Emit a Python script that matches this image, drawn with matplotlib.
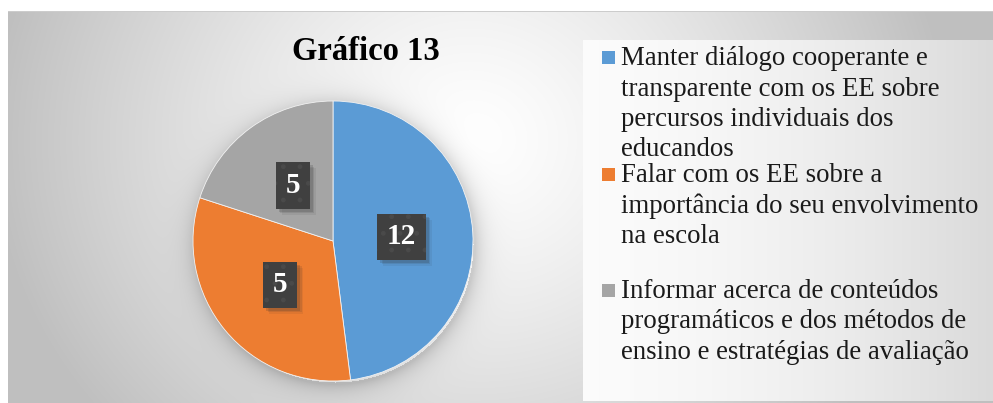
import numpy as np
import matplotlib
matplotlib.use("Agg")
import matplotlib.pyplot as plt
import matplotlib.transforms as mtrans

# slice sizes as drawn, and the numbers printed on them
values = [12, 8, 5]
shown_labels = ["12", "5", "5"]
legend_lines = [
    ["Manter diálogo cooperante e", "transparente com os EE sobre",
     "percursos individuais dos", "educandos"],
    ["Falar com os EE sobre a", "importância do seu envolvimento",
     "na escola"],
    ["Informar acerca de conteúdos", "programáticos e dos métodos de",
     "ensino e estratégias de avaliação"],
]
colors = ["#5B9BD5", "#ED7D31", "#A5A5A5"]
title = "Gráfico 13"

W, H = 993, 403
plt.rcParams["font.family"] = ["Liberation Serif", "DejaVu Serif"]
fig = plt.figure(figsize=(W / 100, H / 100), dpi=100)

# background: grey radial gradient, legend panel, soft pie shadow
yy, xx = np.mgrid[0:H, 0:W].astype(float)
d = np.sqrt((xx - 470) ** 2 + ((yy - 140) / 0.9) ** 2)
v = 1 - 0.25 * np.clip(d / 480, 0, 1) ** 1.3
inbox = (xx >= 583) & (yy >= 40) & (yy <= 400)
v = np.where(inbox, 0.985 - 0.13 * np.clip((xx - 583) / 410, 0, 1) ** 1.6, v)
cx, cy, R = 333, 241, 140
r = np.sqrt((xx - cx - 2) ** 2 + (yy - cy - 3) ** 2)
shade = 0.15 * np.exp(-np.clip(r - R, 0, None) / 10) * (r > R - 2)
v = v - np.where(inbox, 0, shade)
v[:11, :] = 1.0
v[:, :8] = 1.0
v[11, 8:] = 0.8
img = np.dstack([v, v, v])
bg = fig.add_axes([0, 0, 1, 1])
bg.imshow(img, aspect="auto", extent=(0, W, H, 0), interpolation="bilinear")
bg.set_xlim(0, W)
bg.set_ylim(H, 0)
bg.axis("off")

# pie
ax = fig.add_axes([(cx - R) / W, (H - cy - R) / H, 2 * R / W, 2 * R / H])
wedges, texts = ax.pie(values, colors=colors, startangle=90, counterclock=False,
                       labels=shown_labels, labeldistance=0.49,
                       wedgeprops=dict(linewidth=0.6, edgecolor="#f2f2f2"),
                       textprops=dict(ha="center", va="center", color="white",
                                      fontsize=21, fontweight="bold"))
ax.set_xlim(-1, 1)
ax.set_ylim(-1, 1)
plt.rcParams["hatch.linewidth"] = 1.0
for t in texts:
    t.set_zorder(3)
    t.set_bbox(dict(boxstyle="square,pad=0.33", facecolor="#404040",
                    edgecolor="#4a4a4a", linewidth=0, hatch="."))

# soft shadows under the label boxes (pixel rectangles from the drawn boxes)
fig.canvas.draw()
for t in texts:
    bb = t.get_bbox_patch().get_window_extent()
    for k, a in [(6, 0.08), (4.5, 0.12), (3, 0.18)]:
        ax.add_patch(plt.Rectangle((bb.x0 + k, bb.y0 - k), bb.width, bb.height,
                                   transform=mtrans.IdentityTransform(),
                                   facecolor="#303030", alpha=a, linewidth=0,
                                   zorder=2, clip_on=False))

# title
fig.text(366 / W, 1 - 51 / H, title, ha="center", va="center",
         fontsize=23.5, fontweight="bold", color="black")

# legend
square_y = [57, 174, 290]
first_base = [65, 182, 298]
line_gap = 30.5
for i, lines in enumerate(legend_lines):
    fig.patches.append(plt.Rectangle((602 / W, 1 - (square_y[i] + 6.5) / H),
                                     13 / W, 13 / H, transform=fig.transFigure,
                                     facecolor=colors[i], edgecolor="none"))
    for j, line in enumerate(lines):
        fig.text(621 / W, 1 - (first_base[i] + j * line_gap) / H, line,
                 ha="left", va="baseline", fontsize=19.3, color="#1a1a1a")

fig.savefig("out.png", dpi=100)
